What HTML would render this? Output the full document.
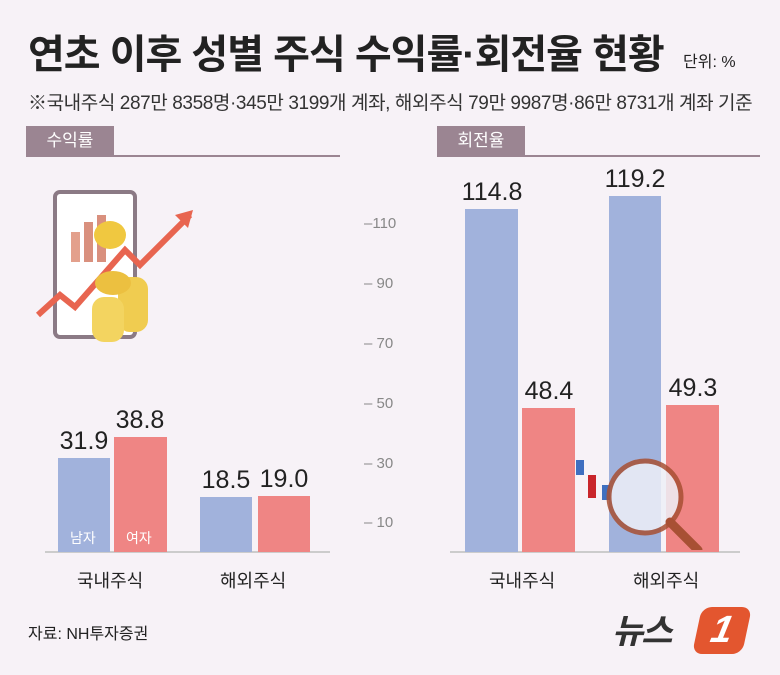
<!DOCTYPE html>
<html><head><meta charset="utf-8"><style>
body{margin:0;width:780px;height:675px;background:#f7f2f7;overflow:hidden;position:relative;font-family:"Liberation Sans","Noto Sans CJK KR",sans-serif;color:#222}
.a{position:absolute;white-space:nowrap}
.bar{position:absolute}
.v{position:absolute;font-size:25px;width:70px;text-align:center;color:#222}
.tk{position:absolute;font-size:15px;color:#888;left:364px}
</style></head><body>
<div class="a" style="left:28px;top:22px;font-size:40px;font-weight:bold;letter-spacing:-1px">연초 이후 성별 주식 수익률·회전율 현황</div>
<div class="a" style="left:683px;top:48px;font-size:16px">단위: %</div>
<div class="a" style="left:28px;top:88px;font-size:19px;letter-spacing:-0.4px;color:#333">※국내주식 287만 8358명·345만 3199개 계좌, 해외주식 79만 9987명·86만 8731개 계좌 기준</div>

<div class="a" style="left:26px;top:126px;width:88px;height:29px;background:#9b8592;color:#fff;font-size:17px;text-align:center;line-height:29px">수익률</div>
<div class="a" style="left:26px;top:155px;width:314px;height:2px;background:#9b8592"></div>
<div class="a" style="left:437px;top:126px;width:88px;height:29px;background:#9b8592;color:#fff;font-size:17px;text-align:center;line-height:29px">회전율</div>
<div class="a" style="left:437px;top:155px;width:323px;height:2px;background:#9b8592"></div>

<svg class="a" style="left:30px;top:185px" width="170" height="170">
<rect x="25" y="7" width="80" height="145" rx="5" fill="#fff" stroke="#8b7a85" stroke-width="4"/>
<rect x="41" y="47" width="9" height="30" fill="#e3a08c"/><rect x="54" y="37" width="9" height="40" fill="#d9907e"/><rect x="67" y="30" width="9" height="47" fill="#d9907e"/>
<polyline points="8,130 30,110 45,122 95,65 110,80 160,30" fill="none" stroke="#e86550" stroke-width="6"/>
<polygon points="163,25 145,30 158,43" fill="#e86550"/>
<ellipse cx="80" cy="50" rx="16" ry="14" fill="#f0c840"/>
<rect x="88" y="92" width="30" height="55" rx="12" fill="#f0cc50"/>
<rect x="62" y="112" width="32" height="45" rx="12" fill="#f3d460"/>
<ellipse cx="83" cy="98" rx="18" ry="12" fill="#ecc040"/>
</svg>

<div class="a" style="left:45px;top:551px;width:285px;height:2px;background:#ccc"></div>
<div class="bar" style="left:58px;top:458px;width:52px;height:94px;background:#a1b2dc"></div>
<div class="bar" style="left:114px;top:437px;width:53px;height:115px;background:#ef8584"></div>
<div class="bar" style="left:200px;top:497px;width:52px;height:55px;background:#a1b2dc"></div>
<div class="bar" style="left:258px;top:496px;width:52px;height:56px;background:#ef8584"></div>
<div class="v" style="left:49px;top:427px">31.9</div>
<div class="v" style="left:105px;top:406px">38.8</div>
<div class="v" style="left:191px;top:466px">18.5</div>
<div class="v" style="left:249px;top:465px">19.0</div>
<div class="a" style="left:70px;top:528px;font-size:14px;color:#fff">남자</div>
<div class="a" style="left:126px;top:528px;font-size:14px;color:#fff">여자</div>
<div class="a" style="left:77px;top:567px;font-size:18px">국내주식</div>
<div class="a" style="left:220px;top:567px;font-size:18px">해외주식</div>

<div class="tk" style="top:215px">–110</div>
<div class="tk" style="top:275px">– 90</div>
<div class="tk" style="top:335px">– 70</div>
<div class="tk" style="top:395px">– 50</div>
<div class="tk" style="top:455px">– 30</div>
<div class="tk" style="top:514px">– 10</div>

<div class="a" style="left:450px;top:551px;width:290px;height:2px;background:#ccc"></div>
<div class="bar" style="left:465px;top:209px;width:53px;height:343px;background:#a1b2dc"></div>
<div class="bar" style="left:522px;top:408px;width:53px;height:144px;background:#ef8584"></div>
<div class="bar" style="left:609px;top:196px;width:52px;height:356px;background:#a1b2dc"></div>
<div class="bar" style="left:666px;top:405px;width:53px;height:147px;background:#ef8584"></div>
<div class="v" style="left:457px;top:178px">114.8</div>
<div class="v" style="left:514px;top:377px">48.4</div>
<div class="v" style="left:600px;top:165px">119.2</div>
<div class="v" style="left:658px;top:374px">49.3</div>
<svg class="a" style="left:570px;top:450px" width="150" height="100">
<rect x="6" y="10" width="8" height="15" fill="#3f6fc0"/><rect x="18" y="25" width="8" height="23" fill="#c9262b"/><rect x="32" y="35" width="8" height="15" fill="#3f6fc0"/>
<circle cx="75" cy="47" r="36" fill="#eef0f8" opacity="0.85" stroke="#a85034" stroke-width="5"/>
<line x1="100" y1="72" x2="128" y2="100" stroke="#a85034" stroke-width="9" stroke-linecap="round"/>
</svg>
<div class="a" style="left:489px;top:567px;font-size:18px">국내주식</div>
<div class="a" style="left:633px;top:567px;font-size:18px">해외주식</div>

<div class="a" style="left:28px;top:620px;font-size:16px">자료: NH투자증권</div>
<div class="a" style="left:612px;top:604px;font-size:34px;font-weight:bold;font-style:italic;color:#333;letter-spacing:-2px">뉴스</div>
<div class="a" style="left:697px;top:607px;width:50px;height:47px;background:#e3562f;border-radius:10px;transform:skewX(-12deg);color:#fff;font-size:38px;font-weight:bold;font-style:italic;text-align:center;line-height:47px">1</div>
</body></html>
